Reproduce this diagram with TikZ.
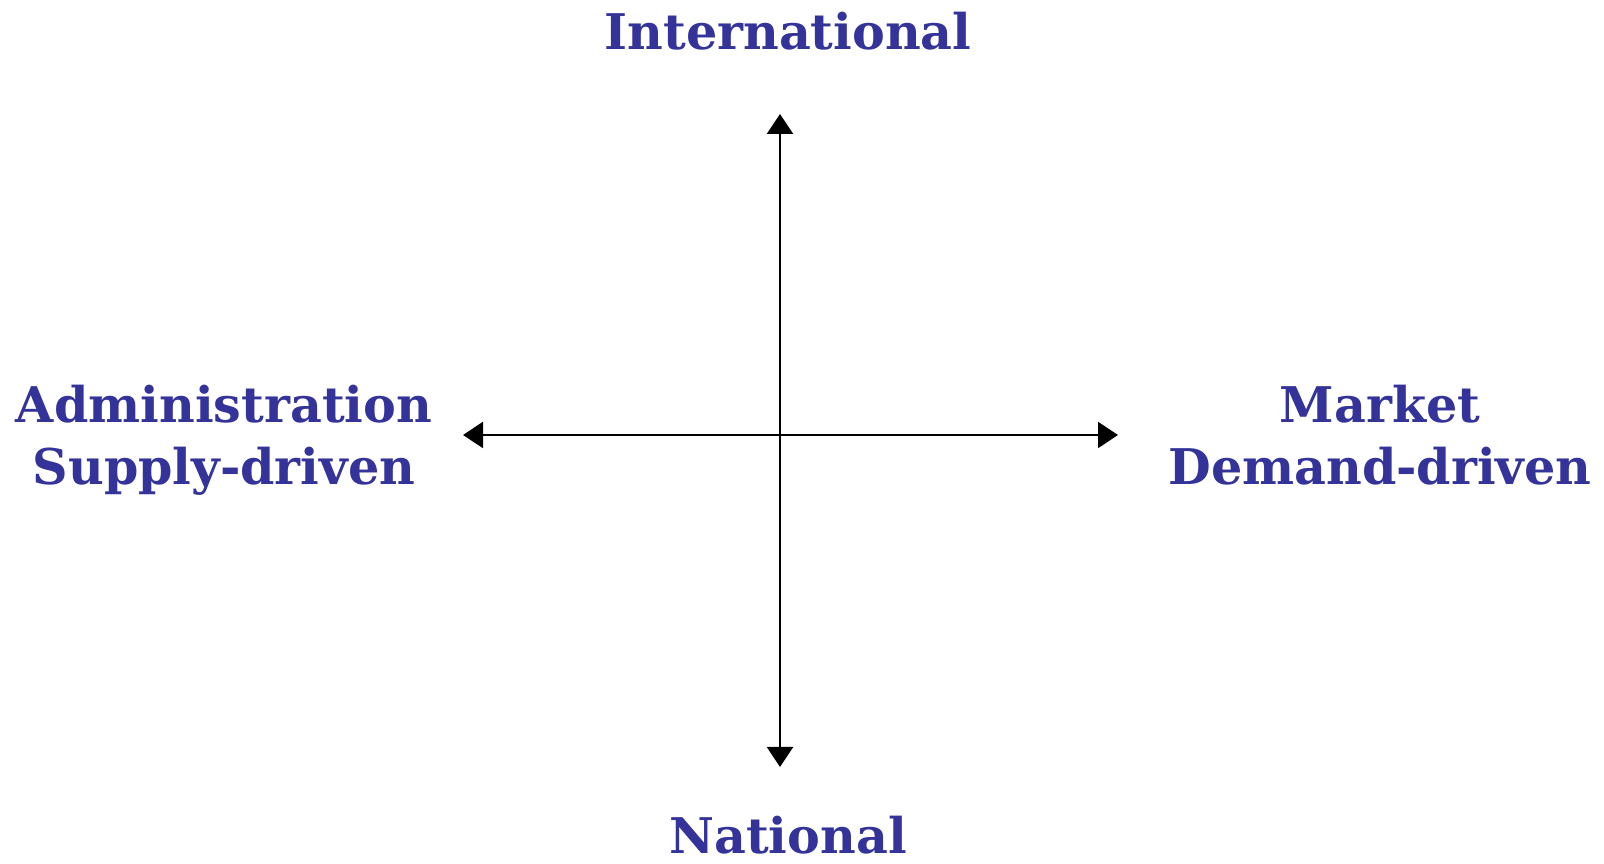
\documentclass[tikz,border=0pt]{standalone}
\usepackage{fontspec}
\setmainfont{DejaVu Serif}
\usepackage{tikz}
\usetikzlibrary{arrows.meta,positioning}
\definecolor{labcolor}{RGB}{51,51,153}
\tikzset{
  axisln/.style={{Triangle[length=2mm,width=2.6mm]}-{Triangle[length=2mm,width=2.6mm]}, line width=0.6pt, black},
  axislab/.style={labcolor, font=\bfseries\fontsize{14}{17.9}\selectfont, align=center, anchor=base, inner sep=0pt},
}

\begin{document}
\begin{tikzpicture}
    \useasboundingbox (0,0) rectangle (16.04,8.64);
    % ends of the two axes
    \coordinate (ytop) at (7.80,7.50);
    \coordinate (ybot) at (7.80,0.97);
    \coordinate (xlft) at (4.63,4.29);
    \coordinate (xrgt) at (11.18,4.29);
    \draw[axisln] (ybot) -- (ytop);
    \draw[axisln] (xlft) -- (xrgt);
    % labels (base = last line)
    \node[axislab] (intl) at (7.88,8.14) {International};
    \node[axislab] (natl) at (7.88,0.10) {National};
    \node[axislab] (admin) at (2.24,3.79) {Administration\\Supply-driven};
    \node[axislab] (market) at (13.80,3.79) {Market\\Demand-driven};
\end{tikzpicture}
\end{document}
